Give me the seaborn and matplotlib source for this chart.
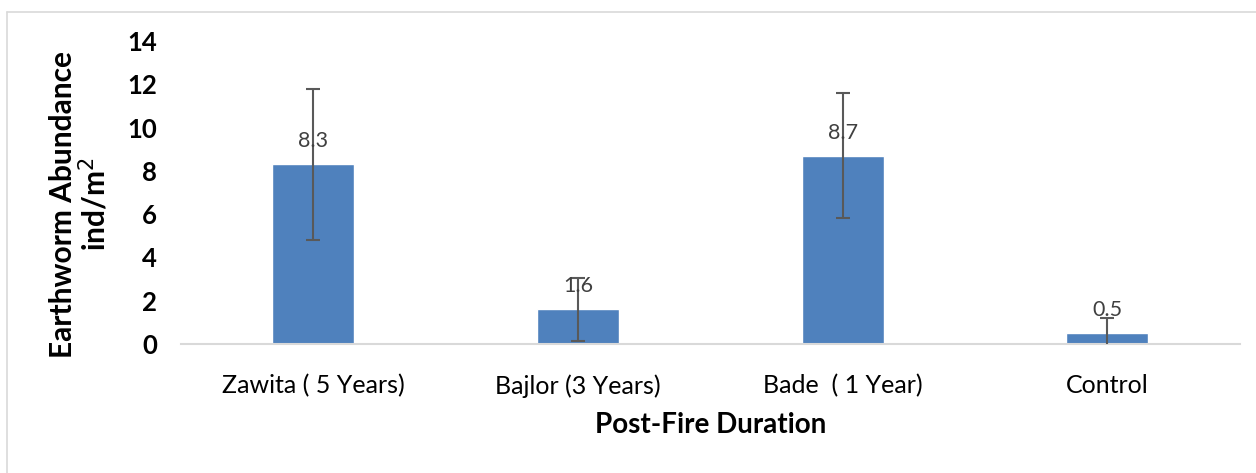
import matplotlib
matplotlib.use("Agg")
import matplotlib.pyplot as plt
from matplotlib.lines import Line2D
import seaborn as sns
import pandas as pd

# Data
sites = ["Zawita ( 5 Years)", "Bajlor (3 Years)", "Bade  ( 1 Year)", "Control"]
abundance = [8.3, 1.6, 8.7, 0.5]
error = [3.5, 1.45, 2.9, 0.7]
y_ticks = [0, 2, 4, 6, 8, 10, 12, 14]

sns.set_theme(style="white")
plt.rcParams["font.family"] = ["Lato", "DejaVu Sans"]

df = pd.DataFrame({"site": sites, "abundance": abundance})

fig = plt.figure(figsize=(12.56, 4.73), dpi=100)
ax = fig.add_axes([0.144, 0.273, 0.843, 0.640])

sns.barplot(data=df, x="site", y="abundance", color="#4f81bd",
            width=0.31, saturation=1, errorbar=None, ax=ax)
ax.errorbar(range(len(sites)), abundance, yerr=error, fmt="none",
            ecolor="#595959", elinewidth=1.5, capsize=5, capthick=1.5,
            clip_on=True, zorder=3)

# value labels
for i, v in enumerate(abundance):
    ax.text(i, v + 0.6, f"{v}", ha="center", va="bottom",
            fontsize=15.5, color="#404040", zorder=4)

ax.set_xlim(-0.5, len(sites) - 0.5)
ax.set_ylim(0, 14)
ax.set_yticks(y_ticks)
ax.set_yticklabels([str(t) for t in y_ticks], fontsize=18.5, fontweight="bold",
                   color="black")
ax.tick_params(axis="x", labelsize=18, colors="black", length=0, pad=22)
ax.tick_params(axis="y", length=0, pad=17)

ax.set_xlabel("Post-Fire Duration", fontsize=20, fontweight="bold",
              labelpad=10, color="black")
ax.set_ylabel("Earthworm Abundance\nind/m$^2$", fontsize=21.5,
              fontweight="bold", labelpad=12, color="black",
              linespacing=1.0)
ax.yaxis.label.set_y(0.46)

for side in ["top", "right", "left"]:
    ax.spines[side].set_visible(False)
ax.spines["bottom"].set_color("#d9d9d9")
ax.spines["bottom"].set_linewidth(1.5)

# outer chart border (partially cropped in reference)
W, H = 1256, 473
fig.add_artist(Line2D([7 / W, 1], [1 - 12 / H, 1 - 12 / H],
                      color="#d9d9d9", lw=1.2))
fig.add_artist(Line2D([7 / W, 7 / W], [0, 1 - 12 / H],
                      color="#d9d9d9", lw=1.2))

fig.savefig("out.png", dpi=100)
